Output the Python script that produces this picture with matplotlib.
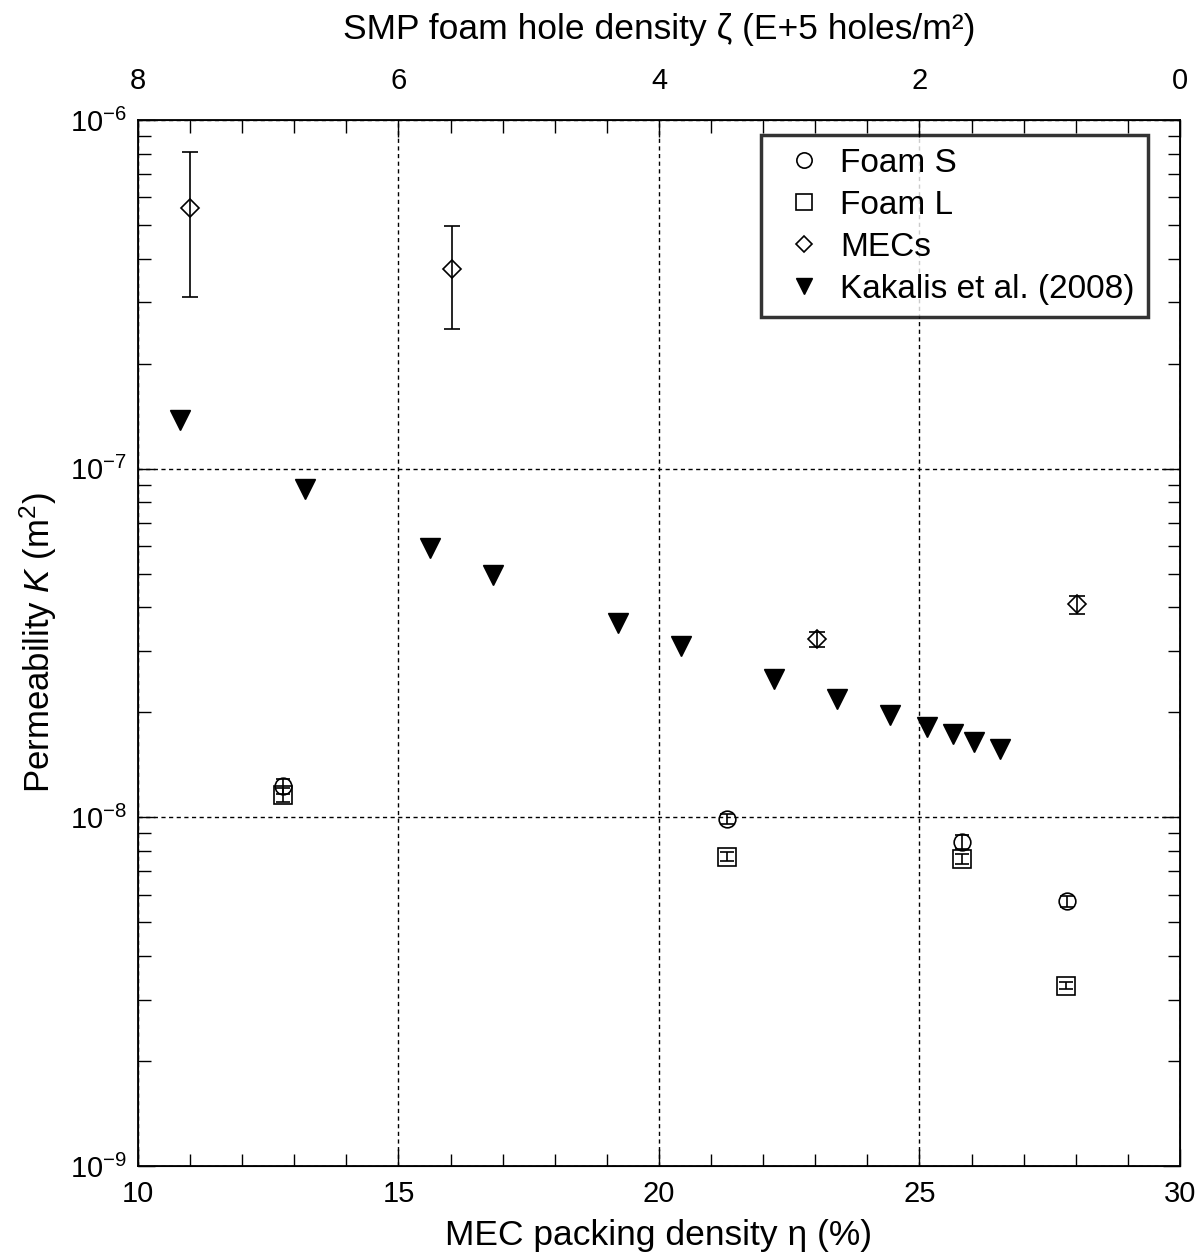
import math
import matplotlib
matplotlib.use("Agg")
import matplotlib.pyplot as plt
from matplotlib.lines import Line2D
from matplotlib.ticker import LogLocator, NullFormatter, FuncFormatter, MultipleLocator

plt.rcParams['font.family'] = ['Liberation Sans', 'DejaVu Sans']
plt.rcParams['mathtext.fontset'] = 'custom'
plt.rcParams['mathtext.rm'] = 'Liberation Sans'
plt.rcParams['mathtext.it'] = 'Liberation Sans:italic'
plt.rcParams['mathtext.bf'] = 'Liberation Sans:bold'

# packing density (%) and permeability (m^2)
foam_s_x = [12.78, 21.31, 25.82, 27.83]
foam_s_k = [1.23e-8, 9.9e-9, 8.5e-9, 5.75e-9]
foam_s_err = [0.6e-9, 0.3e-9, 0.38e-9, 0.21e-9]

foam_l_x = [12.78, 21.30, 25.81, 27.81]
foam_l_k = [1.16e-8, 7.7e-9, 7.6e-9, 3.29e-9]
foam_l_err = [0.5e-9, 0.23e-9, 0.27e-9, 0.07e-9]

mec_x = [11.0, 16.03, 23.03, 28.02]
mec_k = [5.6e-7, 3.74e-7, 3.24e-8, 4.08e-8]
mec_err = [2.5e-7, 1.23e-7, 1.6e-9, 2.4e-9]

kakalis_x = [10.8, 13.2, 15.6, 16.81, 19.21, 20.42, 22.2, 23.42, 24.43,
             25.14, 25.64, 26.04, 26.54]
kakalis_k = [1.38e-7, 8.77e-8, 5.94e-8, 4.97e-8, 3.6e-8, 3.11e-8, 2.5e-8,
             2.18e-8, 1.96e-8, 1.82e-8, 1.73e-8, 1.64e-8, 1.57e-8]

fig = plt.figure(figsize=(12, 12.6), dpi=100)
ax = fig.add_axes([0.115, 0.0746, 0.8683, 0.8302])

eb_kw = dict(mfc='none', mec='k', ecolor='k', elinewidth=1.2, capthick=1.2,
             mew=1.2, linestyle='none', zorder=3)
ax.errorbar(foam_s_x, foam_s_k, yerr=foam_s_err, fmt='o', ms=12, capsize=5, **eb_kw)
ax.errorbar(foam_l_x, foam_l_k, yerr=foam_l_err, fmt='s', ms=13, capsize=5, **eb_kw)
ax.errorbar(mec_x, mec_k, yerr=mec_err, fmt='D', ms=9, capsize=6, **eb_kw)
ax.plot(kakalis_x, kakalis_k, 'v', color='k', ms=14, linestyle='none', zorder=3)

ax.set_yscale('log')
ax.set_xlim(10, 30)
ax.set_ylim(1e-9, 1e-6)

ax.xaxis.set_major_locator(MultipleLocator(5))
ax.xaxis.set_minor_locator(MultipleLocator(1))
ax.yaxis.set_major_locator(LogLocator(base=10))
ax.yaxis.set_minor_locator(LogLocator(base=10, subs=range(2, 10)))
ax.yaxis.set_minor_formatter(NullFormatter())
ax.yaxis.set_major_formatter(
    FuncFormatter(lambda v, p: r'$10^{\mathregular{%d}}$' % round(math.log10(v))))

ax.tick_params(which='both', direction='in', top=False, right=True, width=1)
ax.tick_params(which='major', length=12)
ax.tick_params(which='minor', length=9)
ax.tick_params(axis='x', labelsize=21, pad=10)
ax.tick_params(axis='y', labelsize=21, pad=8)

ax.grid(True, which='major', color='k', linestyle=(0, (3, 2.5)), linewidth=1)

for sp in ax.spines.values():
    sp.set_linewidth(1.3)

ax.set_xlabel('MEC packing density η (%)', fontsize=25.5, labelpad=8)
ax.set_ylabel(r'Permeability $K$ (m$^2$)', fontsize=25, labelpad=8)

# top axis: foam hole density, same lines as the bottom ticks
ax2 = ax.twiny()
ax2.set_xlim(8, 0)
ax2.xaxis.set_major_locator(MultipleLocator(2))
ax2.xaxis.set_minor_locator(MultipleLocator(0.4))
ax2.tick_params(which='both', direction='in', width=1, labelsize=21, pad=18)
ax2.tick_params(which='major', length=12)
ax2.tick_params(which='minor', length=9)
ax2.set_xlabel('SMP foam hole density ζ (E+5 holes/m²)', fontsize=25.5, labelpad=20)

handles = [
    Line2D([], [], marker='o', ms=11, mfc='none', mec='k', mew=1.2, ls='none'),
    Line2D([], [], marker='s', ms=11, mfc='none', mec='k', mew=1.2, ls='none'),
    Line2D([], [], marker='D', ms=8, mfc='none', mec='k', mew=1.2, ls='none'),
    Line2D([], [], marker='v', ms=12, color='k', ls='none'),
]
labels = ['Foam S', 'Foam L', 'MECs', 'Kakalis et al. (2008)']
leg = ax.legend(handles, labels, loc='upper right', bbox_to_anchor=(0.969, 0.9857),
                borderaxespad=0, fontsize=24, frameon=True, fancybox=False,
                edgecolor='k', handlelength=1.8, handletextpad=0.2,
                labelspacing=0.33, borderpad=0.38, numpoints=1)
leg.get_frame().set_linewidth(2.5)
leg.set_zorder(5)

fig.savefig('out.png', dpi=100)
